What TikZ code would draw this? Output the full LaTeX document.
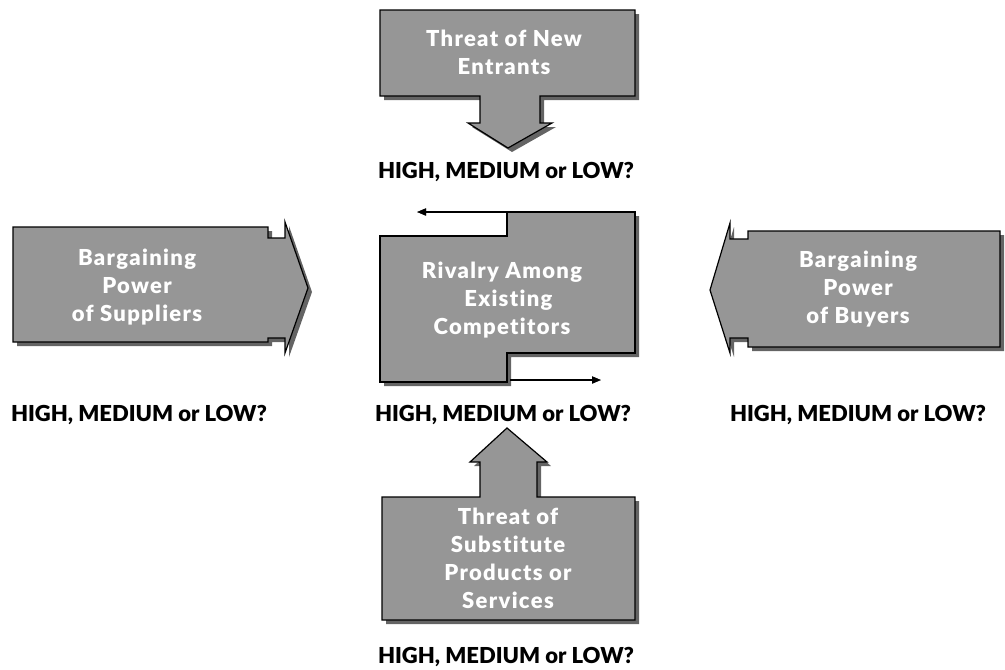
\documentclass[tikz,border=0pt]{standalone}
\usepackage{fontspec}
\setmainfont{Lato}
\newfontfamily\heavy{Lato Black}[Ligatures=NoCommon]
\newfontfamily\heavywide{Lato Black}[Ligatures=NoCommon,LetterSpace=6]
\usetikzlibrary{arrows.meta}
\definecolor{boxfill}{RGB}{150,150,150}
\definecolor{shade}{RGB}{100,100,100}
\tikzset{
  force/.style={fill=boxfill, draw=black, line width=1.2pt, line join=miter},
  forceshadow/.style={fill=shade, draw=none},
  boxtext/.style={text=white, font=\fontsize{22}{28}\heavywide, align=center},
  rating/.style={text=black, font=\fontsize{22}{24}\heavy},
  flow/.style={draw=black, line width=1.6pt, -{Triangle[length=9pt,width=7pt]}},
  flowshadow/.style={draw=shade, line width=1.6pt, -{Triangle[length=9pt,width=7pt]}}
}
\begin{document}
\begin{tikzpicture}[x=1pt,y=-1pt]
\useasboundingbox (0,0) rectangle (1005,670);

% ---- threat of new entrants (arrow pointing down) ----
\def\topshape{(380,10)--(635,10)--(635,96)--(540,96)--(540,123)--(552,123)--(508,148)--(468,123)--(480,123)--(480,96)--(380,96)--cycle}
\fill[forceshadow,shift={(4,4)}] \topshape;
\draw[force] \topshape;
\node[boxtext] (entrants) at (504,52) {Threat of New\\Entrants};
\node[rating] (rtop) at (506,172) {HIGH, MEDIUM or LOW?};

% ---- rivalry among existing competitors ----
\def\midshape{(507,212)--(635,212)--(635,353)--(507,353)--(507,382)--(380,382)--(380,236)--(507,236)--cycle}
\fill[forceshadow,shift={(4,4)}] \midshape;
\draw[force] \midshape;
\coordinate (topstart) at (507,212);
\coordinate (topend) at (417,212);
\coordinate (botstart) at (510,380);
\coordinate (botend) at (601,380);
\draw[flowshadow,shift={(3,3)}] (topstart) -- (topend);
\draw[flowshadow,shift={(3,3)}] (botstart) -- (botend);
\draw[flow] (topstart) -- (topend);
\draw[flow] (botstart) -- (botend);
\node[boxtext] (rivalry) at (502,300) {Rivalry Among\\\ \ Existing\\Competitors};
\node[rating] (rmid) at (503,415) {HIGH, MEDIUM or LOW?};

% ---- bargaining power of suppliers (arrow pointing right) ----
\def\leftshape{(13,227)--(268,227)--(268,238)--(285,238)--(285,222)--(308,288)--(285,353)--(285,338)--(268,338)--(268,342)--(13,342)--cycle}
\fill[forceshadow,shift={(4,4)}] \leftshape;
\draw[force] \leftshape;
\node[boxtext] (suppliers) at (137,287) {Bargaining\\Power\\of Suppliers};
\node[rating] (rleft) at (139,415) {HIGH, MEDIUM or LOW?};

% ---- bargaining power of buyers (arrow pointing left) ----
\def\rightshape{(1000,231)--(748,231)--(748,239)--(730,239)--(730,223)--(710,290)--(730,353)--(730,338)--(748,338)--(748,347)--(1000,347)--cycle}
\fill[forceshadow,shift={(4,4)}] \rightshape;
\draw[force] \rightshape;
\node[boxtext] (buyers) at (858,289) {Bargaining\\Power\\of Buyers};
\node[rating] (rright) at (858,415) {HIGH, MEDIUM or LOW?};

% ---- threat of substitutes (arrow pointing up) ----
\def\botshape{(382,497)--(480,497)--(480,462)--(470,462)--(507,428)--(547,462)--(537,462)--(537,497)--(635,497)--(635,620)--(382,620)--cycle}
\fill[forceshadow,shift={(4,4)}] \botshape;
\draw[force] \botshape;
\node[boxtext] (substitutes) at (508,558) {Threat of\\Substitute\\Products or\\Services};
\node[rating] (rbot) at (506,657) {HIGH, MEDIUM or LOW?};
\end{tikzpicture}
\end{document}
